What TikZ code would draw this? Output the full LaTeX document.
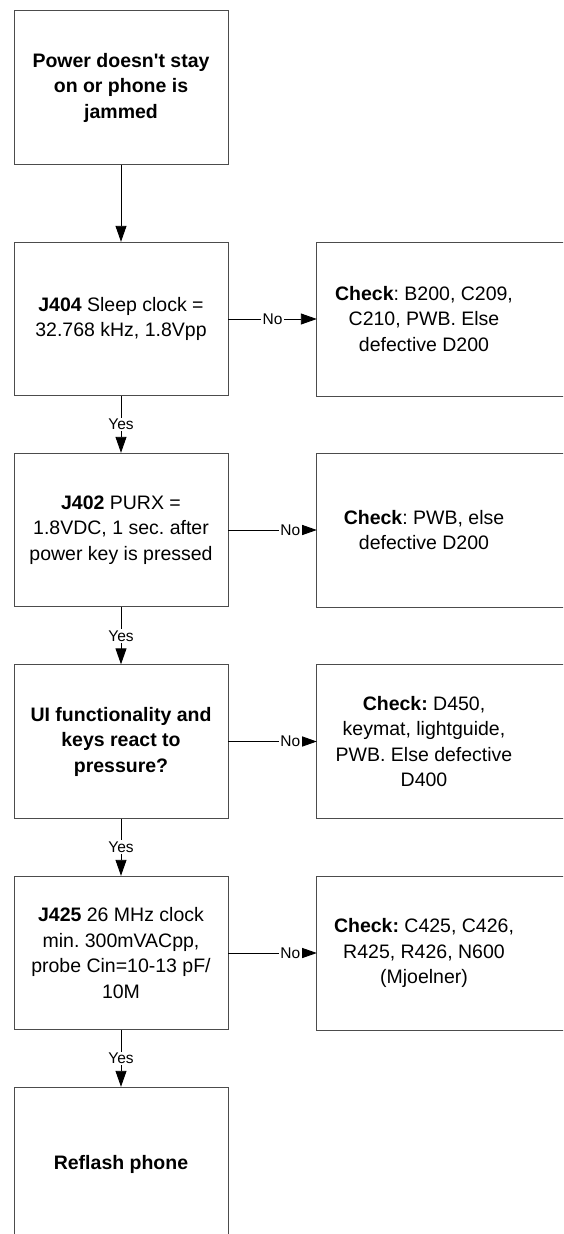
\documentclass[tikz,border=0pt]{standalone}
\usepackage{fontspec}
\setmainfont{Liberation Sans}[Ligatures=TeXOff]
\usetikzlibrary{arrows.meta}
\frenchspacing
\begin{document}
\begin{tikzpicture}[x=1pt,y=-1pt,
  txt/.style={align=center, inner sep=0pt, minimum width=214pt, minimum height=153.5pt,
    font=\fontsize{19.5}{25.5}\selectfont},
  box/.style={txt, draw=black!70, line width=0.9pt},
  openbox/.style={txt, draw=none},
  boxline/.style={draw=black!70, line width=0.9pt},
  conn/.style={draw=black, line width=0.9pt, -{Triangle[length=16pt,width=11pt]}},
  lab/.style={fill=white, font=\fontsize{15.5}{18}\selectfont, inner sep=1.5pt}]
\useasboundingbox (0,0) rectangle (563,1234);
\clip (0,0) rectangle (563,1234);

\node[box] (a) at (121,87.5) {\textbf{Power doesn't stay}\\\textbf{on or phone is}\\\textbf{jammed}};
\node[box] (b) at (121,319) {\textbf{J404} Sleep clock =\\32.768 kHz, 1.8Vpp};
\node[box] (c) at (121,530) {\textbf{J402} PURX =\\1.8VDC, 1 sec. after\\power key is pressed};
\node[box] (d) at (121,741.5) {\textbf{UI functionality and}\\\textbf{keys react to}\\\textbf{pressure?}};
\node[box] (e) at (121,953) {\textbf{J425} 26 MHz clock\\min. 300mVACpp,\\probe Cin=10-13 pF/\\10M};
\node[box] (f) at (121,1164) {\textbf{Reflash phone}};

\node[openbox] (rb) at (424,319) {\textbf{Check}: B200, C209,\\C210, PWB. Else\\defective D200};
\node[openbox] (rc) at (424,530) {\textbf{Check}: PWB, else\\defective D200};
\node[openbox] (rd) at (424,741.5) {\textbf{Check:} D450,\\keymat, lightguide,\\PWB. Else defective\\D400};
\node[openbox] (re) at (424,953) {\textbf{Check:} C425, C426,\\R425, R426, N600\\(Mjoelner)};

\foreach \n in {rb,rc,rd,re}{
  \draw[boxline] ([xshift=80pt]\n.north east) -- (\n.north west) -- (\n.south west) -- ([xshift=80pt]\n.south east);
}

\draw[conn] (a) -- (b);
\draw[conn] (b) -- node[lab]{Yes} (c);
\draw[conn] (c) -- node[lab]{Yes} (d);
\draw[conn] (d) -- node[lab]{Yes} (e);
\draw[conn] (e) -- node[lab]{Yes} (f);

\draw[conn] (b) -- node[lab]{No} (rb);
\draw[conn] (c) -- node[lab, pos=0.7]{No} (rc);
\draw[conn] (d) -- node[lab, pos=0.7]{No} (rd);
\draw[conn] (e) -- node[lab, pos=0.7]{No} (re);
\end{tikzpicture}
\end{document}
